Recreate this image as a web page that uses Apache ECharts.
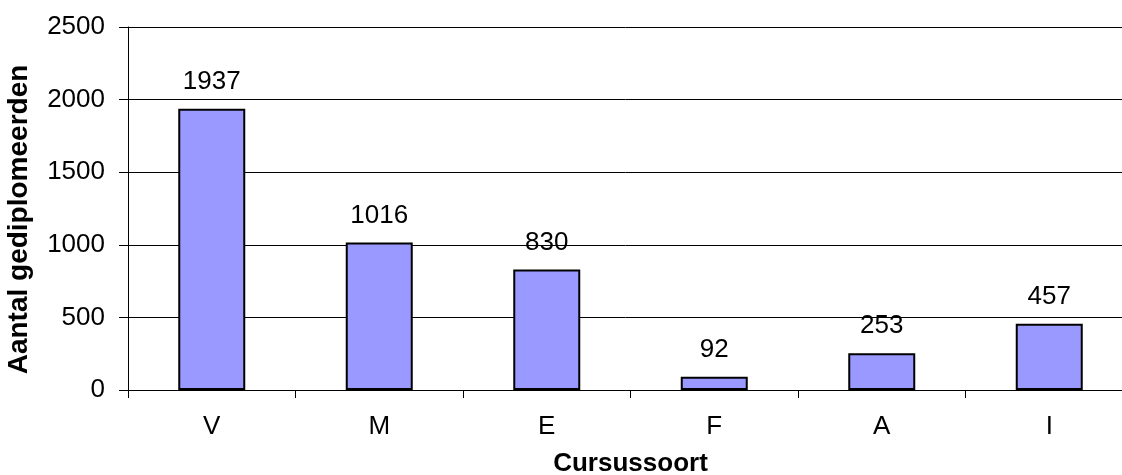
<!DOCTYPE html>
<html>
<head>
<meta charset="utf-8">
<script src="https://cdn.jsdelivr.net/npm/echarts@6/dist/echarts.min.js"></script>
<style>
  html, body { margin: 0; padding: 0; background: #fff; }
  #chart { width: 1122px; height: 475px; }
</style>
</head>
<body>
<div id="chart"></div>
<script>
// course types and number of graduates
const categories = ['V', 'M', 'E', 'F', 'A', 'I']
const graduates = [1937, 1016, 830, 92, 253, 457]
const yTicks = [0, 500, 1000, 1500, 2000, 2500]

const font = "'Liberation Sans', Arial, sans-serif"
const chart = echarts.init(document.getElementById('chart'))

chart.setOption({
  animation: false,
  textStyle: { fontFamily: font },
  grid: { left: 128, right: -11, top: 27, bottom: 85, outerBoundsMode: 'none' },
  xAxis: {
    type: 'category',
    data: categories,
    name: 'Cursussoort',
    nameLocation: 'middle',
    nameGap: 61,
    nameTextStyle: { fontFamily: font, fontSize: 26, fontWeight: 'bold', color: '#000' },
    axisLine: { lineStyle: { color: '#000', width: 1 } },
    axisTick: { show: true, length: 8, lineStyle: { color: '#000' } },
    axisLabel: { fontFamily: font, fontSize: 26, color: '#000', margin: 24 },
  },
  yAxis: {
    type: 'value',
    min: yTicks[0],
    max: yTicks[yTicks.length - 1],
    interval: 500,
    name: 'Aantal gediplomeerden',
    nameLocation: 'middle',
    nameGap: 95,
    // right padding pushes the rotated title a bit down, like the original
    nameTextStyle: { fontFamily: font, fontSize: 28, fontWeight: 'bold', color: '#000', padding: [0, 22, 0, 0] },
    axisLine: { show: true, lineStyle: { color: '#000', width: 1 } },
    axisTick: { show: true, length: 9, lineStyle: { color: '#000' } },
    axisLabel: { fontFamily: font, fontSize: 26, color: '#000', margin: 23, formatter: v => String(v) },
    splitLine: { show: true, lineStyle: { color: '#000', width: 1 } },
  },
  series: [{
    type: 'bar',
    data: graduates,
    barWidth: '40%',
    itemStyle: { color: '#9999ff', borderColor: '#000', borderWidth: 2 },
    label: {
      show: true,
      position: 'top',
      distance: 14,
      fontFamily: font,
      fontSize: 26,
      color: '#000',
    },
  }],
})
</script>
</body>
</html>
